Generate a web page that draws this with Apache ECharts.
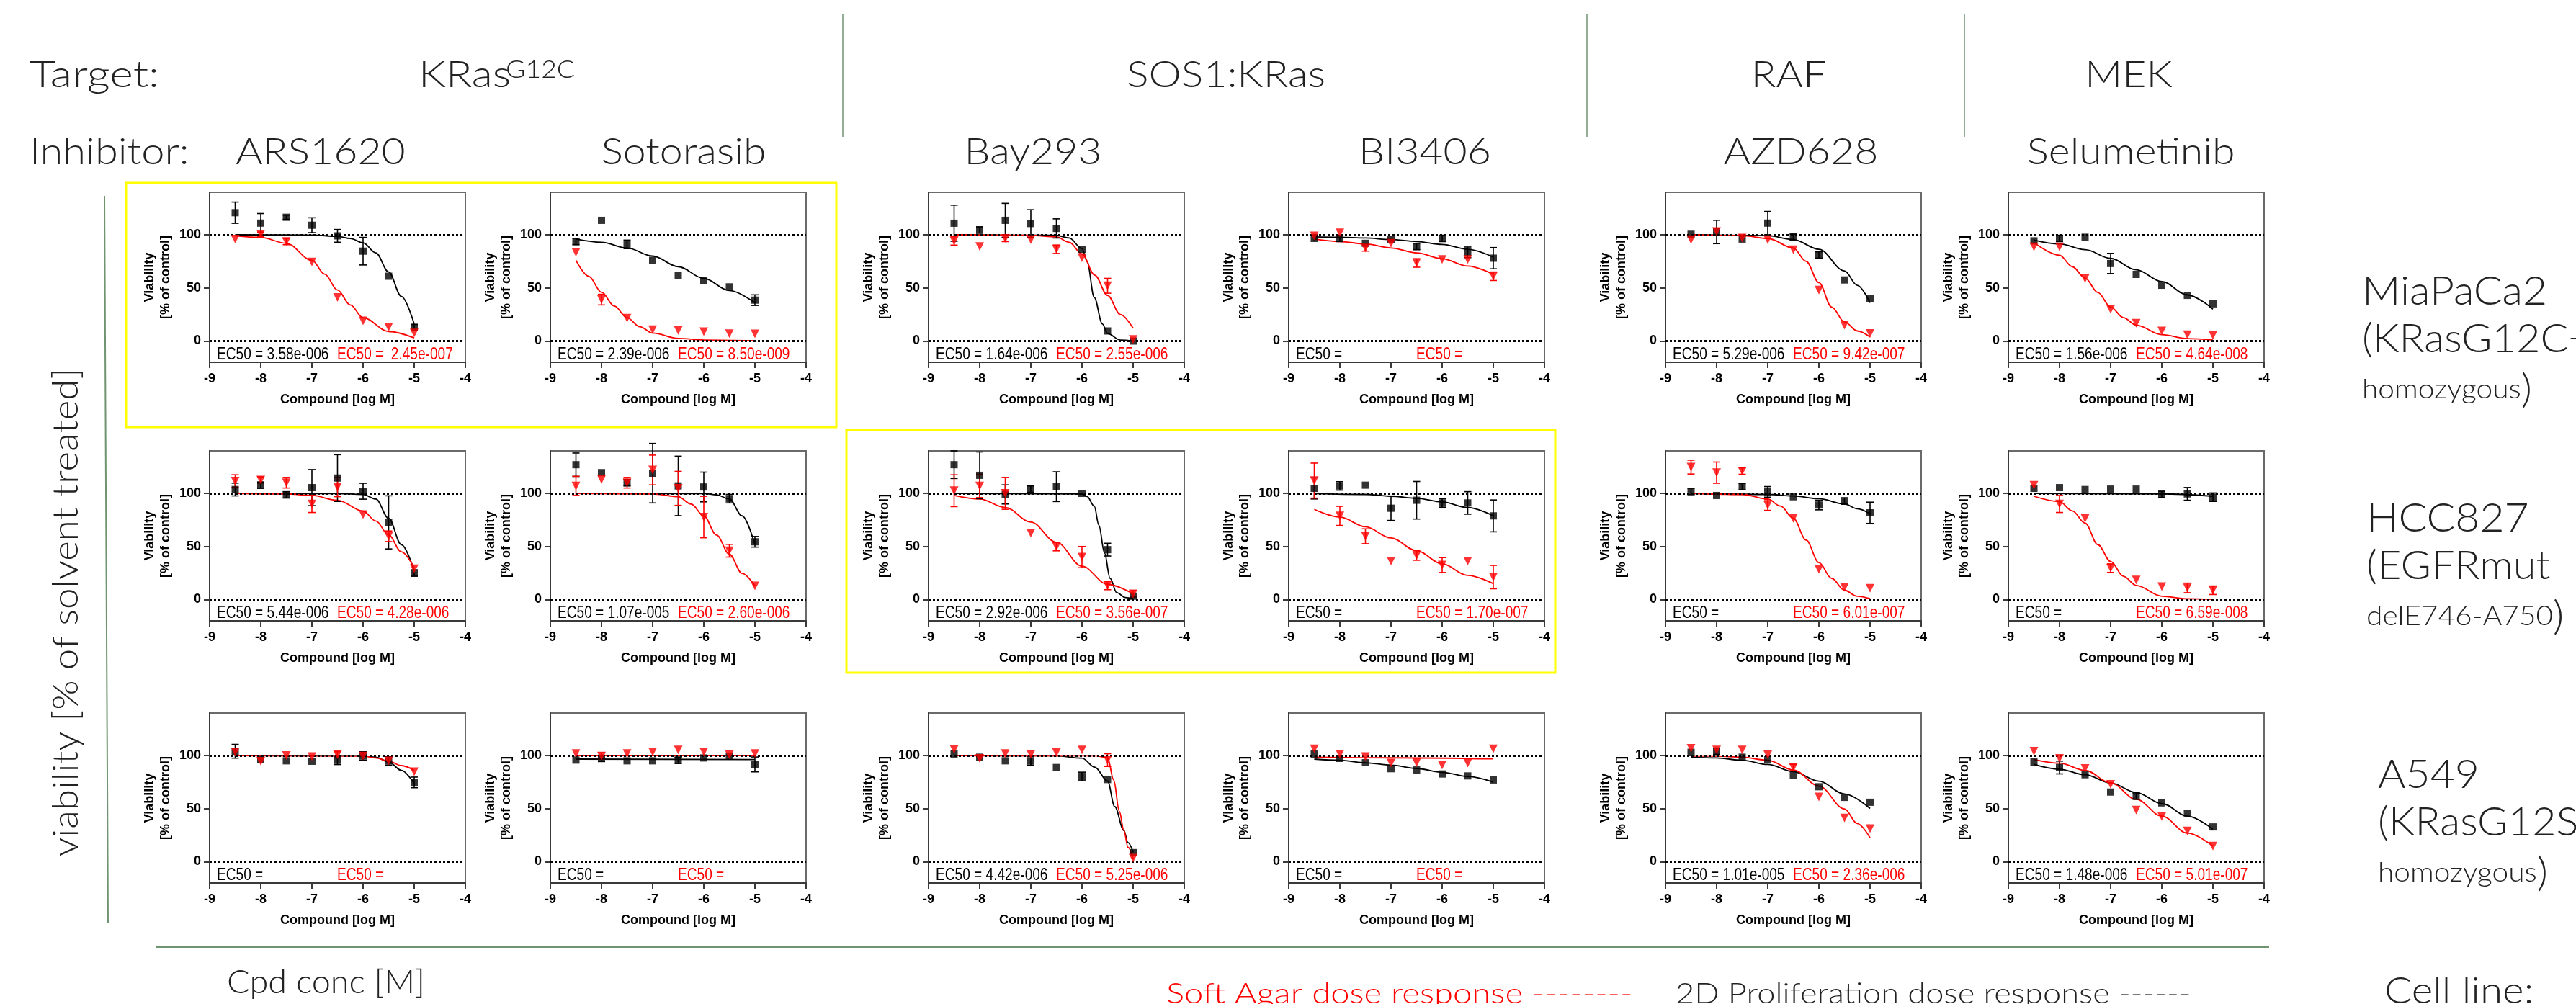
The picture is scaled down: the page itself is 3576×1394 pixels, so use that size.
<!DOCTYPE html>
<html>
<head>
<meta charset="utf-8">
<title>Dose response panels</title>
<script src="https://cdn.jsdelivr.net/npm/echarts@6/dist/echarts.min.js"></script>
<style>
  html, body { margin: 0; padding: 0; background: #fff; }
  #chart { width: 3576px; height: 1394px; }
</style>
</head>
<body>
<div id="chart"></div>
<script>
// ---- data ----------------------------------------------------------------
var TARGETS    = ['KRas', 'SOS1:KRas', 'RAF', 'MEK'];
var INHIBITORS = ['ARS1620', 'Sotorasib', 'Bay293', 'BI3406', 'AZD628', 'Selumetinib'];
var CELL_LINES = ['MiaPaCa2', 'HCC827', 'A549'];
var CELL_MUT   = ['(KRasG12C+', '(EGFRmut', '(KRasG12S+'];
var CELL_ZYG   = ['homozygous', 'delE746-A750', 'homozygous'];

var DOSES = [-8.5, -8, -7.5, -7, -6.5, -6, -5.5, -5];   // log M
var Y_TICKS = [0, 50, 100];

// panels in row order: MiaPaCa2 x 6 inhibitors, HCC827 x 6, A549 x 6
// black squares = 2D proliferation, red triangles = soft agar
var MEAN_2D = [
  [120.8, 111, 116.5, 109, 99, 84.6, 61, 12.7],
  [93.7, 113.6, 91, 76, 62, 57, 51, 38.5],
  [110.9, 104.5, 113.6, 110.6, 106, 86.4, 9.5, 0],
  [97, 96.6, 92, 95.5, 89, 96.6, 83.5, 78],
  [100.5, 102.7, 96, 111, 97.7, 81, 57.5, 40],
  [94.3, 96.6, 97.7, 73, 62.7, 52.5, 43, 35],
  [103.6, 107.7, 98.6, 105.4, 114.4, 102, 72.7, 25],
  [127, 119.5, 110, 119, 107, 106, 95, 54.4],
  [127, 117, 99, 104, 106.3, 100, 47, 3.2],
  [104.7, 107, 107.7, 86, 93.5, 91, 91, 78.8],
  [101.8, 98, 106.3, 101.4, 96.8, 89, 92.8, 81.7],
  [104.7, 105.4, 103.6, 104, 104, 99, 99.5, 96.4],
  [104, 96, 95, 94.6, 95.5, 99.5, 95, 74.7],
  [95.7, 97.3, 95, 95, 95.5, 97.7, 99.5, 91.6],
  [101.4, 98.4, 95, 95, 88.7, 80.3, 77.4, 8.6],
  [101.4, 97.3, 93.2, 87.6, 86.4, 82.6, 80.8, 77],
  [103, 104, 98.4, 96, 81.4, 70.6, 60.6, 56],
  [93.9, 88.7, 81.9, 65.6, 61.8, 55.4, 45.2, 32.8]
];
var ERR_2D = [
  [10, 9, 2, 7, 6, 13, 0, 3],
  [3, 0, 4, 0, 0, 0, 0, 5],
  [17, 3, 16, 13, 9, 0, 0, 0],
  [3, 3, 0, 0, 3, 3, 5, 10],
  [0, 11, 0, 11, 3, 3, 0, 0],
  [0, 3, 0, 9.5, 0, 0, 0, 0],
  [6, 3, 3, 17, 22, 7.5, 25, 3],
  [11, 0, 3, 28, 28, 14, 4, 5],
  [13, 22, 9, 3, 14, 0, 6, 0],
  [10, 4, 0, 11.5, 17.7, 4, 10.6, 15],
  [3, 0, 3, 5, 0, 4.5, 3, 10],
  [0, 0, 0, 0, 0, 3, 6, 4],
  [6.5, 0, 0, 0, 4, 4, 4, 5],
  [0, 3, 0, 0, 3, 0, 0, 7],
  [0, 0, 0, 4, 0, 4, 0, 0],
  [0, 0, 0, 0, 0, 0, 0, 0],
  [0, 3, 0, 0, 0, 0, 0, 0],
  [0, 6, 0, 0, 3, 0, 0, 0]
];
var MEAN_AGAR = [
  [96, 100.5, 93.7, 74.4, 41, 19, 13, 7.7],
  [83.5, 39, 21.5, 10.6, 10, 8.8, 7, 6.8],
  [94.3, 89, 96.6, 95.5, 86.4, 78.5, 52, 1.6],
  [99, 101.8, 87.6, 92, 73.5, 76.7, 76.7, 61],
  [95.5, 103, 97, 95.5, 86, 48, 15, 7.2],
  [88.7, 88.7, 58.8, 29.9, 16.7, 9.5, 6, 5.4],
  [111.5, 112.6, 110, 90, 105.9, 80, 59.6, 29],
  [107, 113, 110, 122, 104.7, 77.7, 46, 12.9],
  [102.5, 107, 100, 62.5, 49.9, 40, 13.3, 5.4],
  [112, 78.8, 59.6, 36.3, 41.5, 32.5, 36.3, 21.2],
  [124.7, 119.5, 121, 89, 76.5, 28.4, 11.5, 10.6],
  [107.7, 90, 76.5, 29.6, 18.5, 12.2, 11, 8.8],
  [103.4, 94.6, 100, 99, 100.7, 99.5, 95, 84.8],
  [101.8, 99.5, 101.8, 103.4, 105.2, 103.4, 100.7, 101.8],
  [105.7, 97.3, 101.8, 101, 102.7, 105.2, 95.7, 3.4],
  [106.3, 101.4, 98.9, 92.8, 93.2, 91, 92.8, 106.3],
  [106.8, 105.2, 105.2, 100.7, 88.7, 61, 41.2, 31.2],
  [104, 97.3, 87.8, 72.9, 48.6, 42.5, 29, 14.7]
];
var ERR_AGAR = [
  [0, 2, 3, 0, 0, 0, 0, 0],
  [0, 5, 0, 0, 0, 0, 0, 0],
  [4, 0, 3, 0, 4, 0, 7, 0],
  [0, 0, 3, 0, 4, 0, 0, 4],
  [0, 0, 0, 0, 0, 0, 0, 0],
  [0, 0, 0, 0, 0, 0, 0, 0],
  [6, 3, 5, 8, 9, 0, 5, 0],
  [9, 0, 5, 14, 16, 19.5, 6, 0],
  [15, 11, 15, 0, 4, 10, 4, 3],
  [16.5, 9, 7, 0, 4.5, 7, 0, 11],
  [6.5, 10, 3, 5, 0, 0, 0, 0],
  [0, 8, 0, 4, 0, 0, 4.5, 4],
  [0, 0, 0, 0, 3, 0, 0, 0],
  [0, 3, 0, 0, 0, 0, 0, 0],
  [0, 0, 0, 0, 0, 0, 6, 0],
  [0, 0, 0, 0, 0, 0, 0, 0],
  [0, 0, 0, 0, 3, 0, 0, 0],
  [0, 0, 0, 0, 0, 0, 0, 0]
];

// fitted curves as [log M, viability]
var FIT_2D = [
  [[-8.5,100],[-7,99.8],[-6.5,98.5],[-6.25,96.5],[-6,92.5],[-5.75,83],[-5.5,65],[-5.25,42],[-5,16]],
  [[-8.5,96],[-8,93],[-7.5,87.5],[-7,80],[-6.5,70],[-6,59],[-5.5,47.5],[-5,36]],
  [[-8.5,100],[-6.5,99.5],[-6.25,97],[-6,87],[-5.9,75],[-5.76,41],[-5.6,16],[-5.5,7],[-5.25,1],[-5,0]],
  [[-8.5,98],[-8,97.7],[-7.5,97],[-7,95.5],[-6.5,93.7],[-6,91],[-5.5,86.4],[-5,79]],
  [[-8.5,100],[-7,99.3],[-6.5,95.5],[-6,86.4],[-5.5,66],[-5.25,52.5],[-5,36]],
  [[-8.5,95],[-8,91.4],[-7.5,86],[-7,77.8],[-6.5,67],[-6,56],[-5.5,43.4],[-5,30]],
  [[-8.5,100],[-6.5,99.8],[-6,99],[-5.75,94.6],[-5.5,76.5],[-5.25,51.7],[-5,27]],
  [[-8.5,100],[-6,99.8],[-5.75,98.6],[-5.5,94.6],[-5.25,78.8],[-5,51.7]],
  [[-8.5,100],[-6,99.5],[-5.9,97],[-5.76,88],[-5.67,70],[-5.56,44],[-5.45,20],[-5.32,6.5],[-5.15,2],[-5,0.7]],
  [[-8.5,99.8],[-7.5,99],[-7,97.3],[-6.5,95.3],[-6,91.9],[-5.5,86.7],[-5,78.8]],
  [[-8.5,100],[-7,99],[-6.5,97.5],[-6,95],[-5.5,90],[-5.25,85.5],[-5,80.6]],
  [[-8.5,100],[-6,99.5],[-5,97.3]],
  [[-8.5,100],[-6,99.8],[-5.75,98.4],[-5.5,94],[-5.25,86],[-5,73.5]],
  [[-8.5,96.6],[-5,96.2]],
  [[-8.5,100],[-6.5,99.7],[-6,97.5],[-5.75,89],[-5.5,76],[-5.36,52],[-5.18,29.4],[-5.1,18],[-5,9]],
  [[-8.5,96.6],[-8,95.5],[-7.5,93.2],[-7,91],[-6.5,87.8],[-6,84.2],[-5.5,80.3],[-5,75]],
  [[-8.5,98.4],[-8,97.7],[-7.5,95.5],[-7,91.6],[-6.5,84.8],[-6,75.8],[-5.5,63.8],[-5,50.2]],
  [[-8.5,91.6],[-8,87.1],[-7.5,81.9],[-7,74.2],[-6.5,65.2],[-6,54.8],[-5.5,43],[-5,30.5]]
];
var FIT_AGAR = [
  [[-8.5,99],[-8,97.5],[-7.5,92],[-7,76],[-6.75,63],[-6.5,48],[-6.25,34],[-6,22],[-5.5,9],[-5,3]],
  [[-8.5,76],[-8.25,61],[-8,46],[-7.75,33],[-7.5,22],[-7.25,13.5],[-7,7.5],[-6.5,2.5],[-6,1],[-5,0.3]],
  [[-8.5,100],[-7,99.5],[-6.5,98],[-6.25,93],[-6,82],[-5.75,62],[-5.5,43],[-5.25,25],[-5,12]],
  [[-8.5,96],[-8,93.7],[-7.5,91.4],[-7,87.6],[-6.5,83],[-6,77.4],[-5.5,70.6],[-5,62.7]],
  [[-8.5,100],[-7.5,99.3],[-7,96.6],[-6.5,87.6],[-6.25,75],[-6,55],[-5.75,32],[-5.5,18],[-5.25,9.5],[-5,3.8]],
  [[-8.5,92.8],[-8,80.8],[-7.75,70],[-7.5,59.3],[-7.25,45.7],[-7,32],[-6.75,22],[-6.5,15],[-6,6],[-5.5,2.3],[-5,1]],
  [[-8.5,100],[-7.5,99.5],[-7,98],[-6.5,93.5],[-6,83.3],[-5.75,74],[-5.5,60.7],[-5.25,45],[-5,30]],
  [[-8.5,100],[-7,99.5],[-6.5,96.8],[-6.25,90],[-6,78.8],[-5.75,60.7],[-5.5,42.7],[-5.25,24.6],[-5,12.9]],
  [[-8.5,98],[-8,94.6],[-7.5,86.7],[-7,73],[-6.5,54],[-6,31.4],[-5.5,14.4],[-5,5.4]],
  [[-8.5,84.9],[-8,77.7],[-7.5,68.6],[-7,58],[-6.5,46],[-6,33.6],[-5.5,22.8],[-5,15]],
  [[-8.5,100],[-7.5,99],[-7,94.6],[-6.75,88],[-6.5,76.5],[-6.25,56],[-6,34.8],[-5.75,20],[-5.5,8.8],[-5.25,3.2],[-5,0.9]],
  [[-8.5,97.3],[-8,92.3],[-7.75,83.5],[-7.5,72],[-7.25,51.7],[-7,35.9],[-6.75,22],[-6.5,13.3],[-6,3.2],[-5.5,0.7],[-5,0.2]],
  [[-8.5,100],[-6,99.5],[-5.75,97.7],[-5.5,94.6],[-5.25,90.5],[-5,86]],
  [[-8.5,100],[-5,100]],
  [[-8.5,100],[-5.75,99.8],[-5.5,98],[-5.38,77],[-5.27,47.5],[-5.18,29.4],[-5.1,13.6],[-5,2.7]],
  [[-8.5,98.3],[-7,97.8],[-5,96.8]],
  [[-8.5,99.5],[-8,99.5],[-7.5,98.4],[-7,95.5],[-6.5,86.4],[-6,71.3],[-5.5,49.8],[-5.25,36],[-5,22.6]],
  [[-8.5,96.2],[-8,92.8],[-7.5,86],[-7,74.2],[-6.5,58.8],[-6,43],[-5.5,27],[-5,14.7]]
];

var EC50_2D = [
  'EC50 = 3.58e-006', 'EC50 = 2.39e-006', 'EC50 = 1.64e-006', 'EC50 =', 'EC50 = 5.29e-006', 'EC50 = 1.56e-006',
  'EC50 = 5.44e-006', 'EC50 = 1.07e-005', 'EC50 = 2.92e-006', 'EC50 =', 'EC50 =', 'EC50 =',
  'EC50 =', 'EC50 =', 'EC50 = 4.42e-006', 'EC50 =', 'EC50 = 1.01e-005', 'EC50 = 1.48e-006'
];
var EC50_AGAR = [
  'EC50 =  2.45e-007', 'EC50 = 8.50e-009', 'EC50 = 2.55e-006', 'EC50 =', 'EC50 = 9.42e-007', 'EC50 = 4.64e-008',
  'EC50 = 4.28e-006', 'EC50 = 2.60e-006', 'EC50 = 3.56e-007', 'EC50 = 1.70e-007', 'EC50 = 6.01e-007', 'EC50 = 6.59e-008',
  'EC50 =', 'EC50 =', 'EC50 = 5.25e-006', 'EC50 =', 'EC50 = 2.36e-006', 'EC50 = 5.01e-007'
];

// ---- layout ----------------------------------------------------------------
var COL_LEFT = [291, 764, 1289, 1789, 2312, 2788];
var ROW_TOP = [267, 626, 990];
var PW = 355, PH = 236;
var RED = '#ff0000', BLACK = '#000000', AXIS = '#3a3a3a', GREEN = '#6f946f';
var ARIAL = "'Liberation Sans', Arial, sans-serif";
var THIN = "Lato, 'Open Sans', sans-serif";

function errBar(color){
  return function(params, api){
    var x = api.value(0);
    var hi = api.coord([x, api.value(2)]);
    var lo = api.coord([x, api.value(1)]);
    var st = { stroke: color, lineWidth: 1.6 };
    return { type: 'group', children: [
      { type: 'line', shape: { x1: hi[0], y1: hi[1], x2: lo[0], y2: lo[1] }, style: st },
      { type: 'line', shape: { x1: hi[0]-5, y1: hi[1], x2: hi[0]+5, y2: hi[1] }, style: st },
      { type: 'line', shape: { x1: lo[0]-5, y1: lo[1], x2: lo[0]+5, y2: lo[1] }, style: st }
    ]};
  };
}
function errData(mean, err){
  var out = [];
  DOSES.forEach(function(x, k){ if(err[k] > 0) out.push([x, mean[k]-err[k], mean[k]+err[k]]); });
  return out;
}
function pts(mean){ return DOSES.map(function(x, k){ return [x, mean[k]]; }); }
function label(txt, x, y, size, opt){
  opt = opt || {};
  var st = { text: txt, fill: opt.color || '#222', font: '300 ' + size + 'px ' + THIN,
    textAlign: opt.align || 'left', textVerticalAlign: 'middle' };
  if(opt.rich) st.rich = opt.rich;
  return { type: 'text', x: x, y: y, scaleX: opt.sx || 1, rotation: opt.rot || 0, z: 10, style: st };
}

(function(){
  var grids = [], xAxes = [], yAxes = [], series = [], graphics = [];

  for(var i = 0; i < 18; i++){
    var r = Math.floor(i / 6), c = i % 6;
    var gx = COL_LEFT[c], gy = ROW_TOP[r];
    grids.push({ left: gx, top: gy, width: PW, height: PH, show: true, borderColor: '#6a6a6a', borderWidth: 2 });
    xAxes.push({
      type: 'value', gridIndex: i, min: -9, max: -4, interval: 1,
      axisLine: { show: true, onZero: false, lineStyle: { color: AXIS, width: 2 } },
      axisTick: { show: true, length: 8, lineStyle: { color: AXIS, width: 2 } },
      axisLabel: { margin: 14, color: '#000', fontFamily: ARIAL, fontWeight: 'bold', fontSize: 18 },
      splitLine: { show: false },
      name: 'Compound [log M]', nameLocation: 'middle', nameGap: 43,
      nameTextStyle: { color: '#000', fontFamily: ARIAL, fontWeight: 'bold', fontSize: 18 }
    });
    yAxes.push({
      type: 'value', gridIndex: i, min: -20, max: 140,
      axisLine: { show: true, onZero: false, lineStyle: { color: AXIS, width: 2 } },
      axisTick: { show: true, length: 8, customValues: Y_TICKS, lineStyle: { color: AXIS, width: 2 } },
      axisLabel: { margin: 12, color: '#000', fontFamily: ARIAL, fontWeight: 'bold', fontSize: 18,
                   customValues: Y_TICKS },
      splitLine: { show: false },
      name: 'Viability\n[% of control]', nameLocation: 'middle', nameGap: 50, nameRotate: 90,
      nameTextStyle: { color: '#000', fontFamily: ARIAL, fontWeight: 'bold', fontSize: 18, lineHeight: 22 }
    });

    series.push({
      type: 'line', xAxisIndex: i, yAxisIndex: i, data: FIT_2D[i], showSymbol: false,
      smooth: 0.35, smoothMonotone: 'x', z: 2,
      lineStyle: { color: BLACK, width: 1.8 },
      markLine: { silent: true, symbol: ['none', 'none'], label: { show: false },
        lineStyle: { color: '#000', type: [3, 3], width: 3 },
        data: [{ yAxis: 100 }, { yAxis: 0 }] }
    });
    series.push({
      type: 'line', xAxisIndex: i, yAxisIndex: i, data: FIT_AGAR[i], showSymbol: false,
      smooth: 0.35, smoothMonotone: 'x', z: 2,
      lineStyle: { color: RED, width: 1.8 }
    });
    series.push({ type: 'custom', xAxisIndex: i, yAxisIndex: i, z: 3,
      renderItem: errBar(BLACK), data: errData(MEAN_2D[i], ERR_2D[i]) });
    series.push({ type: 'custom', xAxisIndex: i, yAxisIndex: i, z: 3,
      renderItem: errBar(RED), data: errData(MEAN_AGAR[i], ERR_AGAR[i]) });
    series.push({ type: 'scatter', xAxisIndex: i, yAxisIndex: i, z: 4,
      symbol: 'rect', symbolSize: 10, itemStyle: { color: BLACK }, data: pts(MEAN_2D[i]) });
    series.push({ type: 'scatter', xAxisIndex: i, yAxisIndex: i, z: 5,
      symbol: 'triangle', symbolRotate: 180, symbolSize: 12, itemStyle: { color: RED }, data: pts(MEAN_AGAR[i]) });

    graphics.push({ type: 'text', x: gx + 10, y: gy + 226, scaleX: 0.83, z: 10,
      style: { text: EC50_2D[i], fill: BLACK, font: '23px ' + ARIAL, textVerticalAlign: 'middle' } });
    graphics.push({ type: 'text', x: gx + 177, y: gy + 226, scaleX: 0.83, z: 10,
      style: { text: EC50_AGAR[i], fill: RED, font: '23px ' + ARIAL, textVerticalAlign: 'middle' } });
  }

  // header rows
  var HS = 1.1;
  graphics.push(label('Target:', 41, 104, 52, { sx: 1.2 }));
  graphics.push(label(TARGETS[0], 581, 104, 52, { sx: 1.15 }));
  graphics.push(label('G12C', 702, 97, 34, { sx: 1.1 }));
  graphics.push(label(TARGETS[1], 1702, 104, 52, { align: 'center', sx: HS }));
  graphics.push(label(TARGETS[2], 2483, 104, 52, { align: 'center', sx: HS }));
  graphics.push(label(TARGETS[3], 2955, 104, 52, { align: 'center', sx: HS }));
  graphics.push(label('Inhibitor:', 41, 211, 52, { sx: 1.11 }));
  var INH_X = [445, 949, 1434, 1978, 2500, 2958];
  INHIBITORS.forEach(function(n, k){ graphics.push(label(n, INH_X[k], 211, 52, { align: 'center', sx: HS })); });

  // cell line captions
  var CELL_X = [3279, 3285, 3301];
  var CELL_Y = [405, 720, 1076];
  CELL_LINES.forEach(function(n, k){
    graphics.push(label(n, CELL_X[k], CELL_Y[k], 55, { sx: 1.07 }));
    graphics.push(label(CELL_MUT[k], CELL_X[k], CELL_Y[k] + 66, 55, { sx: 1.05 }));
    graphics.push(label(CELL_ZYG[k] + '{p|)}', CELL_X[k], CELL_Y[k] + 136, 38,
      { sx: 1.07, rich: { p: { fontSize: 55, fontFamily: THIN, fontWeight: 300, fill: '#222' } } }));
  });
  graphics.push(label('Cell line:', 3310, 1376, 52, { sx: 1.09 }));

  // bottom captions and the side axis title
  graphics.push(label('Cpd conc [M]', 315, 1364, 46, { sx: 1.02 }));
  graphics.push(label('Soft Agar dose response --------', 1619, 1380, 40, { color: RED, sx: 1.18 }));
  graphics.push(label('2D Proliferation dose response ------', 2326, 1380, 40, { sx: 1.13 }));
  graphics.push(label('viability [% of solvent treated]', 92, 850, 50, { align: 'center', rot: Math.PI / 2, sx: 1.06 }));

  // separator lines and highlight boxes
  [1170, 2203, 2727].forEach(function(x){
    graphics.push({ type: 'line', shape: { x1: x, y1: 19, x2: x, y2: 190 }, style: { stroke: GREEN, lineWidth: 1.5 } });
  });
  graphics.push({ type: 'line', shape: { x1: 145, y1: 272, x2: 150, y2: 1281 }, style: { stroke: GREEN, lineWidth: 2 } });
  graphics.push({ type: 'line', shape: { x1: 217, y1: 1315, x2: 3150, y2: 1315 }, style: { stroke: GREEN, lineWidth: 2 } });
  graphics.push({ type: 'rect', shape: { x: 175, y: 254, width: 986, height: 339 }, style: { fill: 'none', stroke: '#ffff00', lineWidth: 3 } });
  graphics.push({ type: 'rect', shape: { x: 1175, y: 597, width: 984, height: 337 }, style: { fill: 'none', stroke: '#ffff00', lineWidth: 3 } });

  var chart = echarts.init(document.getElementById('chart'), null, { renderer: 'canvas' });
  chart.setOption({
    backgroundColor: '#ffffff',
    animation: false,
    grid: grids, xAxis: xAxes, yAxis: yAxes, series: series,
    graphic: { elements: graphics }
  });
  window.addEventListener('resize', function(){ chart.resize(); });
})();
</script>
</body>
</html>
